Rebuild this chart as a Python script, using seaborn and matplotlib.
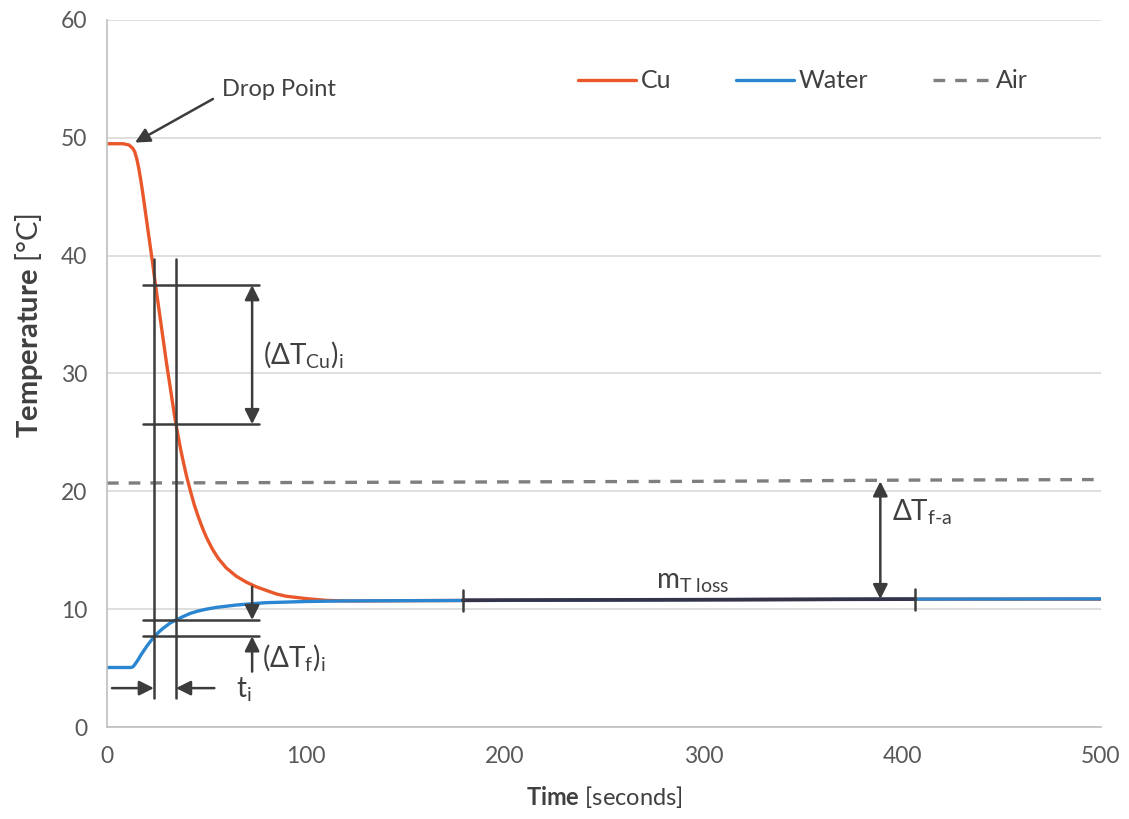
import matplotlib
matplotlib.use("Agg")
import matplotlib.pyplot as plt
import seaborn as sns
import pandas as pd

# ---- data ----
cu_t = [0, 8, 11, 13, 14, 15, 16, 17, 18, 19, 20, 21, 22, 23, 24, 25, 26, 27, 28, 29, 30,
        31, 32, 33, 34, 35, 36, 37, 38, 40, 42, 44, 46, 48, 50, 53, 56, 60, 65, 70, 75,
        80, 85, 90, 100, 110, 120, 130, 150, 200, 300, 400, 500]
cu_T = [49.5, 49.5, 49.4, 49.1, 48.8, 48.2, 47.4, 46.4, 45.3, 44.1, 42.9, 41.7, 40.5, 39.3,
        38.0, 36.8, 35.6, 34.4, 33.2, 32.0, 30.8, 29.7, 28.6, 27.5, 26.4, 25.4, 24.5, 23.6,
        22.8, 21.3, 20.0, 18.8, 17.8, 16.9, 16.1, 15.1, 14.3, 13.5, 12.8, 12.3, 11.9,
        11.6, 11.3, 11.1, 10.9, 10.75, 10.7, 10.7, 10.72, 10.75, 10.8, 10.85, 10.85]

water_t = [0, 12, 13, 14, 15, 16, 17, 18, 19, 20, 22, 24, 26, 28, 30, 32, 35, 38, 42, 46,
           50, 55, 60, 65, 72, 80, 90, 100, 120, 150, 200, 300, 400, 500]
water_T = [5.05, 5.05, 5.1, 5.3, 5.55, 5.8, 6.1, 6.35, 6.6, 6.85, 7.3, 7.7, 8.05, 8.35, 8.6,
           8.85, 9.1, 9.35, 9.65, 9.85, 10.0, 10.15, 10.25, 10.35, 10.45, 10.55, 10.6, 10.65,
           10.7, 10.72, 10.75, 10.8, 10.85, 10.87]

air_t = [0, 100, 200, 300, 400, 500]
air_T = [20.7, 20.75, 20.8, 20.85, 20.95, 21.0]

series_names = ["Cu", "Water", "Air"]
series_colors = ["#E8582A", "#2A86D1", "#7F7F7F"]

x_ticks = [0, 100, 200, 300, 400, 500]
y_ticks = [0, 10, 20, 30, 40, 50, 60]

# ---- build long table ----
df = pd.concat([
    pd.DataFrame({"t": cu_t, "T": cu_T, "series": "Cu"}),
    pd.DataFrame({"t": water_t, "T": water_T, "series": "Water"}),
    pd.DataFrame({"t": air_t, "T": air_T, "series": "Air"}),
], ignore_index=True)

sns.set_style("white")
FONT = ["Lato", "DejaVu Sans"]
plt.rcParams["font.family"] = FONT
plt.rcParams["mathtext.fontset"] = "custom"
plt.rcParams["mathtext.rm"] = "Lato"
plt.rcParams["mathtext.it"] = "Lato:italic"
plt.rcParams["mathtext.bf"] = "Lato:bold"
plt.rcParams["mathtext.fallback"] = "stixsans"

TXT = "#404040"
ANN = "#3C3C3C"
FS_TICK = 16.5
FS_LEG = 18
FS_ANN = 20

fig = plt.figure(figsize=(11.29, 8.19), dpi=100)
ax = fig.add_axes([107 / 1129, 1 - 727 / 819, (1101 - 107) / 1129, (727 - 20) / 819])

sns.lineplot(data=df, x="t", y="T", hue="series", style="series",
             hue_order=series_names, style_order=series_names,
             palette=dict(zip(series_names, series_colors)),
             dashes={"Cu": "", "Water": "", "Air": (3.5, 3)},
             linewidth=2.4, sort=False, estimator=None, ax=ax, legend=True)

ax.set_xlim(0, 500)
ax.set_ylim(0, 60)
ax.set_xticks(x_ticks)
ax.set_yticks(y_ticks)
ax.grid(axis="y", color="#D9D9D9", lw=1.2)
ax.grid(axis="x", visible=False)
ax.set_axisbelow(True)
for s in ["top", "right"]:
    ax.spines[s].set_visible(False)
for s in ["left", "bottom"]:
    ax.spines[s].set_color("#BFBFBF")
    ax.spines[s].set_linewidth(1.2)
ax.tick_params(axis="both", colors="#BFBFBF", labelcolor="#595959",
               labelsize=FS_TICK, length=6, width=1.2, direction="out", pad=8)

ax.set_xlabel(r"$\mathbf{Time}$ [seconds]", fontsize=17, color=TXT, labelpad=12)
ax.set_ylabel(r"$\mathbf{Temperature}$ [°C]", fontsize=21, color=TXT)
ax.yaxis.set_label_coords(-0.062, (727 - 326) / 707)

# legend
h, l = ax.get_legend_handles_labels()
leg = ax.legend(h, l, ncol=3, frameon=False, loc="center left",
                bbox_to_anchor=(578 / 1129, 1 - 81 / 819), bbox_transform=fig.transFigure,
                borderpad=0, borderaxespad=0, handlelength=2.3, handletextpad=0.2,
                columnspacing=2.6, fontsize=FS_LEG)
for t in leg.get_texts():
    t.set_color(TXT)

# ---- annotations ----
lw_a = 1.8
# vertical guides
for tx in [23.6, 34.7]:
    ax.plot([tx, tx], [2.5, 39.7], color=ANN, lw=lw_a, zorder=5)
# horizontal guides
for ty in [37.5, 25.7, 9.08, 7.7]:
    ax.plot([18, 76.5], [ty, ty], color=ANN, lw=lw_a, zorder=5)

aprops = dict(arrowstyle="-|>", color=ANN, lw=lw_a, mutation_scale=22, shrinkA=0, shrinkB=0)
dprops = dict(arrowstyle="<|-|>", color=ANN, lw=lw_a, mutation_scale=22, shrinkA=0, shrinkB=0)

# (ΔT_Cu)_i
ax.annotate("", xy=(73, 25.7), xytext=(73, 37.5), arrowprops=dprops, zorder=6)
ax.text(78.5, 31.6, r"$\mathrm{(\Delta T_{Cu})_{i}}$", fontsize=FS_ANN, color=TXT,
        va="center", ha="left")
# (ΔT_f)_i
ax.annotate("", xy=(73, 9.08), xytext=(73, 11.9), arrowprops=aprops, zorder=6)
ax.annotate("", xy=(73, 7.7), xytext=(73, 4.7), arrowprops=aprops, zorder=6)
ax.text(78, 5.9, r"$\mathrm{(\Delta T_{f})_{i}}$", fontsize=FS_ANN, color=TXT,
        va="center", ha="left")
# t_i
ax.annotate("", xy=(23.6, 3.3), xytext=(2.5, 3.3), arrowprops=aprops, zorder=6)
ax.annotate("", xy=(34.7, 3.3), xytext=(54, 3.3), arrowprops=aprops, zorder=6)
ax.text(65, 3.2, r"$\mathrm{t_{i}}$", fontsize=FS_ANN, color=TXT, va="center", ha="left")

# ΔT_f-a
ax.annotate("", xy=(389, 10.85), xytext=(389, 20.85), arrowprops=dprops, zorder=6)
ax.text(395, 18.2, r"$\mathrm{\Delta T_{f\text{-}a}}$",
        fontsize=FS_ANN, color=TXT, va="center", ha="left")

# m_T loss
m_t = [179, 406.5]
m_T = [10.76, 10.85]
ax.plot(m_t, m_T, color="#33334A", lw=2.6, zorder=6)
for tx, ty in zip(m_t, m_T):
    ax.plot([tx, tx], [ty - 0.9, ty + 0.9], color=ANN, lw=lw_a, zorder=6)
ax.text(276, 12.3, r"$\mathrm{m_{T\ loss}}$", fontsize=FS_ANN, color=TXT, va="center", ha="left")

# Drop point
ax.annotate("", xy=(14.1, 49.6), xytext=(53.3, 53.3), arrowprops=aprops, zorder=6)
ax.text(57.8, 54.1, "Drop Point", fontsize=17, color=TXT, va="center", ha="left")

fig.savefig("out.png", dpi=100)
